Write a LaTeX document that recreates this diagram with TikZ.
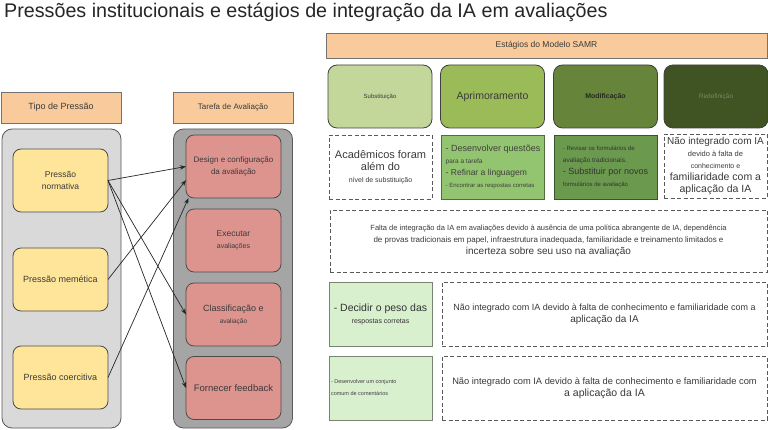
\documentclass[tikz,border=0pt]{standalone}
\usepackage{fontspec}
\setmainfont{Liberation Sans}
\usetikzlibrary{arrows.meta}
\definecolor{peach}{HTML}{F9CB9C}
\definecolor{lgray}{HTML}{D9D9D9}
\definecolor{dgray}{HTML}{A5A5A5}
\definecolor{yel}{HTML}{FFE599}
\definecolor{rose}{HTML}{DD948F}
\definecolor{samrA}{HTML}{C4D79B}
\definecolor{samrB}{HTML}{9BBB59}
\definecolor{samrC}{HTML}{67853A}
\definecolor{samrD}{HTML}{3F5323}
\definecolor{grnA}{HTML}{93C46F}
\definecolor{grnB}{HTML}{6B9A4E}
\definecolor{mint}{HTML}{D9F0CF}
\definecolor{ink}{HTML}{3A3A3A}
\newcommand\fz[2][13]{\fontsize{#2}{#1}\selectfont}
\tikzset{
  base/.style={inner sep=0pt,outer sep=0pt,align=center,text=ink,line width=.8pt},
  hdr/.style={base,draw=gray!90!black,fill=peach,minimum height=31},
  pan/.style={base,draw=gray!70!black,fill=#1,rounded corners=10pt,minimum width=119,minimum height=299},
  pbox/.style={base,draw=gray!60!black,fill=#1,rounded corners=8pt,minimum width=95,minimum height=63},
  stage/.style={base,draw=gray!50!black,fill=#1,rounded corners=9pt,minimum width=104,minimum height=63},
  gbox/.style={base,draw=#1!55!black,fill=#1,minimum width=103,minimum height=64},
  dbox/.style={base,draw=gray!70!black,dashed,dash pattern=on 4pt off 2.5pt,minimum height=64},
  arr/.style={-{Stealth[length=6pt,width=4.5pt]},line width=.7pt,black!85}
}
\begin{document}
\begin{tikzpicture}[x=1pt,y=-1pt]
\fill[white](0,0)rectangle(768,430);
\useasboundingbox(0,0)rectangle(768,430);
\node[anchor=base west,inner sep=0pt,text=black!85](title)at(4,17.5){\fz[22]{19.7}Pressões institucionais e estágios de integração da IA em avaliações};
% left half
\node[hdr,minimum width=120](tipo)at(61,107.5){\fz{9}Tipo de Pressão};
\node[hdr,minimum width=120](tarefa)at(233,107.5){\fz{8}Tarefa de Avaliação};
\node[pan=lgray](lpan)at(61.5,278.5){};
\node[pan=dgray](rpan)at(233,278.5){};
\node[pbox=yel](norm)at(60.5,180.5){\fz{8.5}Pressão\\\fz{8.5}normativa};
\node[pbox=yel](meme)at(60.5,279.5){\fz{9}Pressão memética};
\node[pbox=yel](coer)at(60.5,377.5){\fz{9}Pressão coercitiva};
\node[pbox=rose](design)at(233.5,166.5){\fz[12.5]{8}Design e configuração\\\fz[12.5]{8}da avaliação};
\node[pbox=rose](exec)at(233.5,240.5){\fz{8.5}Executar\\\fz{7}avaliações};
\node[pbox=rose](classif)at(233.5,314.5){\fz[12]{9}Classificação e\\\fz[12]{6.5}avaliação};
\node[pbox=rose](feedb)at(233.5,388){\fz{9.5}Fornecer feedback};
\draw[arr](norm.east)--(design.west);
\draw[arr](norm.east)--(classif.west);
\draw[arr](norm.east)--(feedb.west);
\draw[arr](meme.east)--(design.196);
\draw[arr](coer.east)--(design.215);
% right half
\node[hdr,minimum width=441,minimum height=25](samr)at(546.5,45.5){\fz{8.5}Estágios do Modelo SAMR};
\node[stage=samrA](subs)at(380,96.5){\fz{6}Substituição};
\node[stage=samrB](apri)at(492.5,96.5){\fz{10.5}Aprimoramento};
\node[stage=samrC,text=black!85,font=\bfseries](modi)at(605.5,96.5){\fz{7}Modificação};
\node[stage=samrD,text=samrD!70!white](rede)at(716,96.5){\fz{6.5}Redefinição};
\node[dbox,minimum width=103](acad)at(380.5,167){\fz{11}Acadêmicos foram\\\fz{11}além do\\\fz{7}nível de substituição};
\node[gbox=grnA,align=left,text=black!75](desv)at(493,167){\fz[12.5]{9}- Desenvolver questões\\\fz[12.5]{6.5}para a tarefa\\\fz[12.5]{8.5}- Refinar a linguagem\\\fz[12.5]{6}- Encontrar as respostas corretas};
\node[gbox=grnB,align=left,text=black!80](revi)at(605.5,167){\fz[12.5]{6}- Revisar os formulários de\\\fz[12.5]{6.5}avaliação tradicionais.\\\fz[12.5]{9}- Substituir por novos\\\fz[12.5]{6}formulários de avaliação};
\node[dbox,minimum width=103](nint)at(715.5,166){\fz[12.8]{10}Não integrado com IA\\\fz[12.8]{7.5}devido à falta de\\\fz[12.8]{7}conhecimento e\\\fz[12.8]{10.5}familiaridade com a\\\fz[12.8]{10.5}aplicação da IA};
\node[dbox,minimum width=437,minimum height=62](falta)at(548.5,241){\fz[12.5]{7.5}Falta de integração da IA em avaliações devido à ausência de uma política abrangente de IA, dependência\\\fz[12.5]{8}de provas tradicionais em papel, infraestrutura inadequada, familiaridade e treinamento limitados e\\\fz[12.5]{10}incerteza sobre seu uso na avaliação};
\node[gbox=mint,text=black!80](peso)at(380.5,314){\fz[16]{10.5}- Decidir o peso das\\\fz[16]{7}respostas corretas};
\node[dbox,minimum width=325](nint3)at(604.5,314){\fz[16]{9}Não integrado com IA devido à falta de conhecimento e familiaridade com a\\\fz[16]{10}aplicação da IA};
\node[gbox=mint,align=flush left,text width=99,text=black!75](coment)at(380.5,388){\fz[15]{5.5}- Desenvolver um conjunto\\\fz[15]{5.5}comum de comentários};
\node[dbox,minimum width=325](nint4)at(604.5,388){\fz[16]{9.3}Não integrado com IA devido à falta de conhecimento e familiaridade com\\\fz[16]{10.5}a aplicação da IA};
\end{tikzpicture}
\end{document}
